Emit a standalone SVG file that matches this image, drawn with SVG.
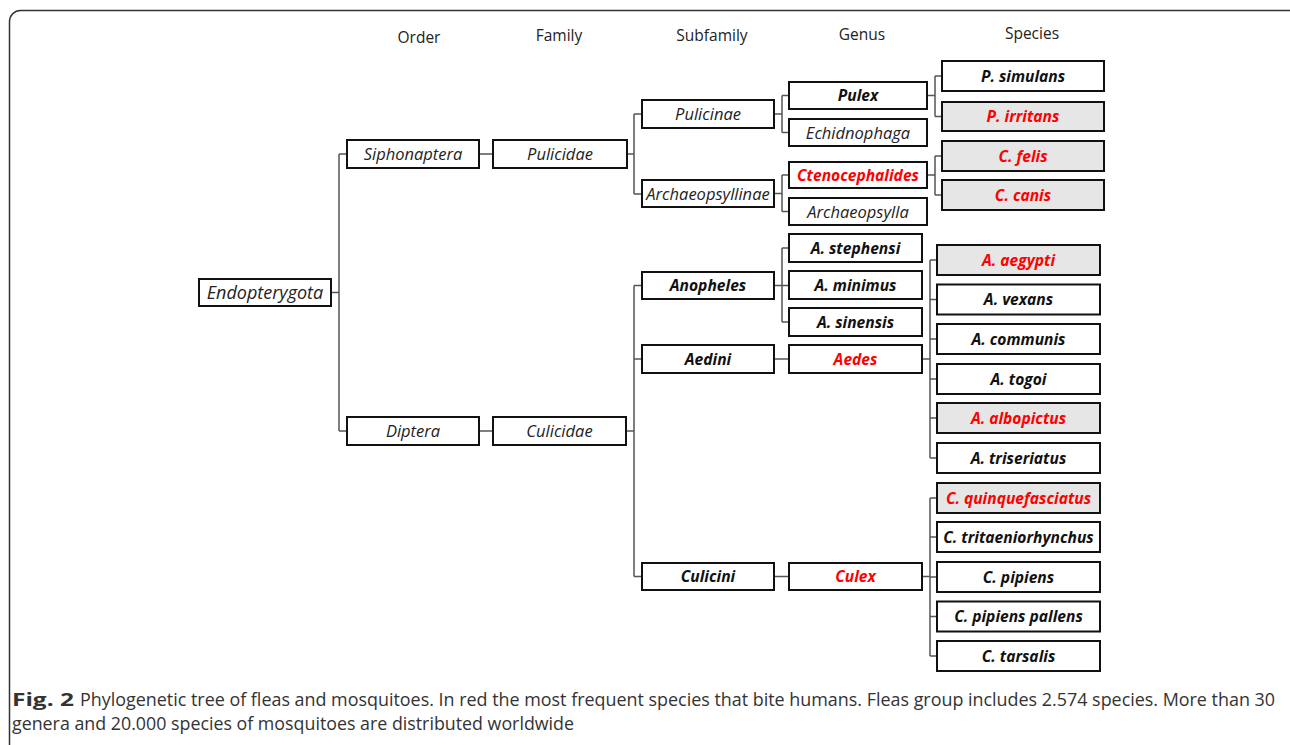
<svg xmlns="http://www.w3.org/2000/svg" width="1290" height="745" viewBox="0 0 1290 745">
<style>
.bx{fill:#fff;stroke:#111;stroke-width:2}
.hl{fill:#e6e6e6;stroke:#111;stroke-width:2}
.t{font-family:"Open Sans","Liberation Sans",sans-serif;font-style:italic;font-size:16.5px;fill:#222;text-anchor:middle}
.b{font-family:"Open Sans","Liberation Sans",sans-serif;font-style:italic;font-weight:bold;font-size:15.6px;fill:#111;text-anchor:middle}
.r{fill:#ff0000}
.h{font-family:"Open Sans","Liberation Sans",sans-serif;font-size:15.5px;fill:#222;text-anchor:middle}
.cn{fill:none;stroke:#555;stroke-width:1.5}
.cap{font-family:"Open Sans","Liberation Sans",sans-serif;font-size:18px;fill:#333}
</style>
<rect x="0" y="0" width="1290" height="745" fill="#fff"/>
<rect x="9.5" y="10.5" width="1300" height="780" rx="11" fill="none" stroke="#333" stroke-width="1.5"/>
<g id="headers">
<text class="h" x="419" y="43">Order</text>
<text class="h" x="559" y="41">Family</text>
<text class="h" x="712" y="41">Subfamily</text>
<text class="h" x="862" y="40">Genus</text>
<text class="h" x="1032" y="39">Species</text>
</g>
<g id="connectors">
<path class="cn" d="M331 292.5H339M339 154V431M339 154H347M339 431H347"/>
<path class="cn" d="M479 154H493M627 154H634M634 114V194M634 114H642M634 194H642"/>
<path class="cn" d="M774 114H782M782 95.5V132.5M782 95.5H789M782 132.5H789"/>
<path class="cn" d="M774 193.5H782M782 175V211.5M782 175H789M782 211.5H789"/>
<path class="cn" d="M927 95.5H935M935 76V116.5M935 76H942M935 116.5H942"/>
<path class="cn" d="M927 175H935M935 156V195M935 156H942M935 195H942"/>
<path class="cn" d="M479 431H493M626 431H634M634 285.5V576.5M634 285.5H642M634 359H642M634 576.5H642"/>
<path class="cn" d="M774 285.5H782M782 248V322M782 248H789M782 322H789M782 285.5H789"/>
<path class="cn" d="M774 359H789M922 359H930M930 260V458M930 260H937M930 299.5H937M930 339H937M930 379H937M930 418H937M930 458H937"/>
<path class="cn" d="M774 576.5H789M922 576.5H930M930 498V656M930 498H937M930 537H937M930 577H937M930 616.5H937M930 656H937"/>
</g>
<g id="n-endopterygota"><rect class="bx" x="199" y="279" width="132" height="27"/><text class="t" x="265" y="299" style="font-size:18px">Endopterygota</text></g>
<g id="n-siphonaptera"><rect class="bx" x="347" y="140" width="132" height="28"/><text class="t" x="413" y="160">Siphonaptera</text></g>
<g id="n-pulicidae"><rect class="bx" x="493" y="140" width="134" height="28"/><text class="t" x="560" y="160">Pulicidae</text></g>
<g id="n-diptera"><rect class="bx" x="347" y="417" width="132" height="28"/><text class="t" x="413" y="437">Diptera</text></g>
<g id="n-culicidae"><rect class="bx" x="493" y="417" width="133" height="28"/><text class="t" x="559.5" y="437">Culicidae</text></g>
<g id="n-pulicinae"><rect class="bx" x="642" y="100" width="132" height="28"/><text class="t" x="708" y="120">Pulicinae</text></g>
<g id="n-archaeopsyllinae"><rect class="bx" x="642" y="180" width="132" height="27"/><text class="t" x="708" y="199.5">Archaeopsyllinae</text></g>
<g id="n-pulex"><rect class="bx" x="789" y="82" width="138" height="27"/><text class="b" x="858" y="101">Pulex</text></g>
<g id="n-echidnophaga"><rect class="bx" x="789" y="119" width="138" height="27"/><text class="t" x="858" y="138.5">Echidnophaga</text></g>
<g id="n-ctenocephalides"><rect class="bx" x="789" y="162" width="138" height="26"/><text class="b r" x="858" y="181">Ctenocephalides</text></g>
<g id="n-archaeopsylla"><rect class="bx" x="789" y="198" width="138" height="27"/><text class="t" x="858" y="217.5">Archaeopsylla</text></g>
<g id="n-p-simulans"><rect class="bx" x="942" y="61" width="162" height="30"/><text class="b" x="1023" y="81.5">P. simulans</text></g>
<g id="n-p-irritans"><rect class="hl" x="942" y="102" width="162" height="29"/><text class="b r" x="1023" y="122">P. irritans</text></g>
<g id="n-c-felis"><rect class="hl" x="942" y="141" width="162" height="30"/><text class="b r" x="1023" y="161.5">C. felis</text></g>
<g id="n-c-canis"><rect class="hl" x="942" y="180" width="162" height="30"/><text class="b r" x="1023" y="200.5">C. canis</text></g>
<g id="n-anopheles"><rect class="bx" x="642" y="272" width="132" height="27"/><text class="b" x="708" y="291">Anopheles</text></g>
<g id="n-aedini"><rect class="bx" x="642" y="345" width="132" height="28"/><text class="b" x="708" y="364.5">Aedini</text></g>
<g id="n-culicini"><rect class="bx" x="642" y="563" width="132" height="27"/><text class="b" x="708" y="582">Culicini</text></g>
<g id="n-a-stephensi"><rect class="bx" x="789" y="234" width="133" height="28"/><text class="b" x="855.5" y="253.5">A. stephensi</text></g>
<g id="n-a-minimus"><rect class="bx" x="789" y="271" width="133" height="28"/><text class="b" x="855.5" y="290.5">A. minimus</text></g>
<g id="n-a-sinensis"><rect class="bx" x="789" y="308" width="133" height="28"/><text class="b" x="855.5" y="327.5">A. sinensis</text></g>
<g id="n-aedes"><rect class="bx" x="789" y="345" width="133" height="28"/><text class="b r" x="855.5" y="364.5">Aedes</text></g>
<g id="n-culex"><rect class="bx" x="789" y="563" width="133" height="27"/><text class="b r" x="855.5" y="582">Culex</text></g>
<g id="n-a-aegypti"><rect class="hl" x="937" y="245" width="163" height="30"/><text class="b r" x="1018.5" y="265.5">A. aegypti</text></g>
<g id="n-a-vexans"><rect class="bx" x="937" y="284.5" width="163" height="30"/><text class="b" x="1018.5" y="305">A. vexans</text></g>
<g id="n-a-communis"><rect class="bx" x="937" y="324" width="163" height="30"/><text class="b" x="1018.5" y="344.5">A. communis</text></g>
<g id="n-a-togoi"><rect class="bx" x="937" y="364" width="163" height="30"/><text class="b" x="1018.5" y="384.5">A. togoi</text></g>
<g id="n-a-albopictus"><rect class="hl" x="937" y="403" width="163" height="30"/><text class="b r" x="1018.5" y="423.5">A. albopictus</text></g>
<g id="n-a-triseriatus"><rect class="bx" x="937" y="443" width="163" height="30"/><text class="b" x="1018.5" y="463.5">A. triseriatus</text></g>
<g id="n-c-quinquefasciatus"><rect class="hl" x="937" y="483" width="163" height="30"/><text class="b r" x="1018.5" y="503.5">C. quinquefasciatus</text></g>
<g id="n-c-tritaeniorhynchus"><rect class="bx" x="937" y="522" width="163" height="30"/><text class="b" x="1018.5" y="542.5">C. tritaeniorhynchus</text></g>
<g id="n-c-pipiens"><rect class="bx" x="937" y="562" width="163" height="30"/><text class="b" x="1018.5" y="582.5">C. pipiens</text></g>
<g id="n-c-pipiens-pallens"><rect class="bx" x="937" y="601.5" width="163" height="30"/><text class="b" x="1018.5" y="622">C. pipiens pallens</text></g>
<g id="n-c-tarsalis"><rect class="bx" x="937" y="641" width="163" height="30"/><text class="b" x="1018.5" y="661.5">C. tarsalis</text></g>
<g id="caption">
<text class="cap" x="12" y="706" font-weight="bold" fill="#222" textLength="62" lengthAdjust="spacingAndGlyphs">Fig. 2</text>
<text class="cap" x="80" y="706" textLength="1195" lengthAdjust="spacingAndGlyphs">Phylogenetic tree of fleas and mosquitoes. In red the most frequent species that bite humans. Fleas group includes 2.574 species. More than 30</text>
<text class="cap" x="12" y="730" textLength="562" lengthAdjust="spacingAndGlyphs">genera and 20.000 species of mosquitoes are distributed worldwide</text>
</g>
</svg>
